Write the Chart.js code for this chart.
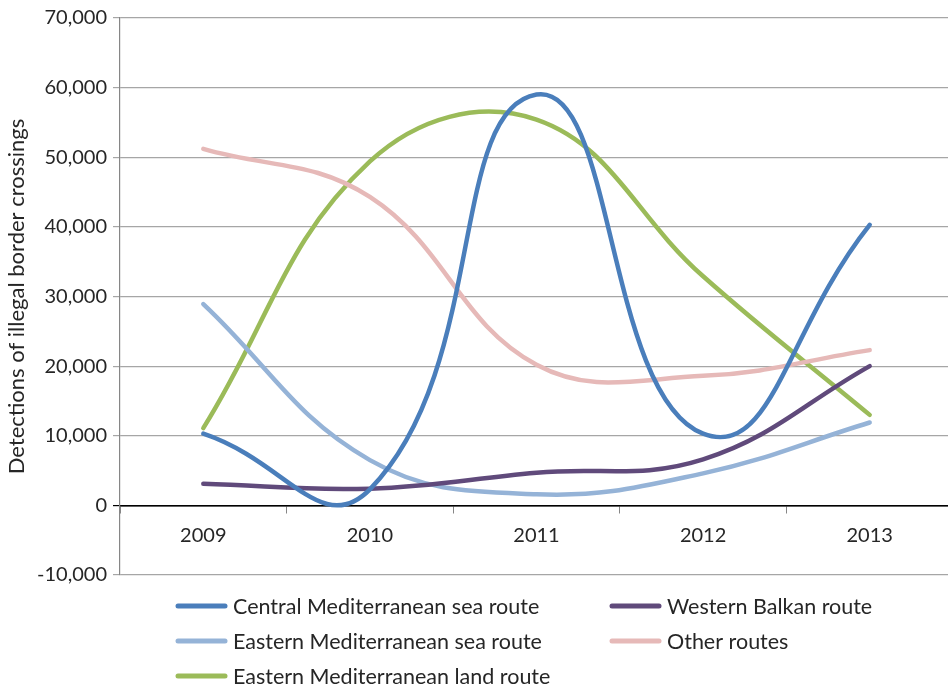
<!DOCTYPE html>
<html>
<head>
<meta charset="utf-8">
<script src="https://cdn.jsdelivr.net/npm/chart.js@4.4.1/dist/chart.umd.min.js"></script>
<style>
    html, body { margin: 0; padding: 0; background: #fff; overflow: hidden; }
    #wrap { width: 953px; height: 689px; }
</style>
</head>
<body>
<div id="wrap"><canvas id="myChart" width="953" height="689"></canvas></div>
<script>
var years = ['2009', '2010', '2011', '2012', '2013'];
var centralMedSea = [10300, 2300, 59000, 10300, 40300];
var westernBalkan = [3100, 2400, 4700, 6600, 20000];
var easternMedSea = [28900, 6500, 1600, 4600, 11900];
var otherRoutes = [51200, 44300, 20200, 18600, 22300];
var easternMedLand = [11100, 49400, 55400, 32900, 13000];
var yMin = -10000, yMax = 70000, yStep = 10000;
var yTitle = 'Detections of illegal border crossings';

var FONT = 'Lato, "Open Sans", sans-serif';

function line(label, data, color, tension) {
    return {
        label: label,
        data: data,
        borderColor: color,
        backgroundColor: color,
        borderWidth: 4.5,
        pointRadius: 0,
        tension: tension || 0.4,
        fill: false,
        borderCapStyle: 'round'
    };
}

// legend in two columns like the original
var routeLegend = {
    id: 'routeLegend',
    afterDraw: function (chart) {
        var ctx = chart.ctx;
        var cols = [176, 610];
        var rows = [606, 641, 676];
        ctx.save();
        ctx.font = '21.5px ' + FONT;
        ctx.textBaseline = 'middle';
        ctx.textAlign = 'left';
        chart.data.datasets.forEach(function (ds, i) {
            var x = cols[i % 2], y = rows[Math.floor(i / 2)];
            ctx.strokeStyle = ds.borderColor;
            ctx.lineWidth = 5;
            ctx.lineCap = 'round';
            ctx.beginPath();
            ctx.moveTo(x + 2, y);
            ctx.lineTo(x + 49, y);
            ctx.stroke();
            ctx.fillStyle = '#262626';
            ctx.fillText(ds.label, x + 57, y + 1);
        });
        ctx.restore();
    }
};

window.onload = function () {
    var ctx = document.getElementById('myChart').getContext('2d');
    new Chart(ctx, {
        type: 'line',
        data: {
            labels: years,
            datasets: [
                line('Central Mediterranean sea route', centralMedSea, '#4a7ebb', 0.5),
                line('Western Balkan route', westernBalkan, '#604a7b'),
                line('Eastern Mediterranean sea route', easternMedSea, '#95b3d7'),
                line('Other routes', otherRoutes, '#e6b9b8'),
                line('Eastern Mediterranean land route', easternMedLand, '#9bbb59')
            ]
        },
        options: {
            responsive: false,
            animation: false,
            layout: { padding: { top: 4, right: 0, bottom: 114, left: 0 } },
            plugins: {
                legend: { display: false },
                tooltip: { enabled: false }
            },
            scales: {
                x: {
                    type: 'category',
                    position: { y: 0 },
                    offset: true,
                    grid: {
                        offset: true,
                        drawOnChartArea: false,
                        drawTicks: true,
                        tickLength: 7,
                        color: '#868686'
                    },
                    border: { color: '#000000', width: 1.5 },
                    ticks: { color: '#262626', font: { family: FONT, size: 20 }, padding: 11, maxRotation: 0 }
                },
                y: {
                    min: yMin,
                    max: yMax,
                    afterFit: function (scale) { scale.width = 120; },
                    ticks: {
                        stepSize: yStep,
                        color: '#262626',
                        padding: 6,
                        font: { family: FONT, size: 20 },
                        callback: function (v) { return v.toLocaleString('en-US'); }
                    },
                    grid: {
                        color: function (c) { return c.tick && c.tick.value === 0 ? '#000000' : '#a6a6a6'; },
                        tickLength: 7,
                        lineWidth: 1.2
                    },
                    border: { color: '#868686', width: 1.2 },
                    title: {
                        display: true,
                        text: yTitle,
                        color: '#262626',
                        font: { family: FONT, size: 22 },
                        padding: { top: 4, bottom: 0 }
                    }
                }
            }
        },
        plugins: [routeLegend]
    });
};
</script>
</body>
</html>
